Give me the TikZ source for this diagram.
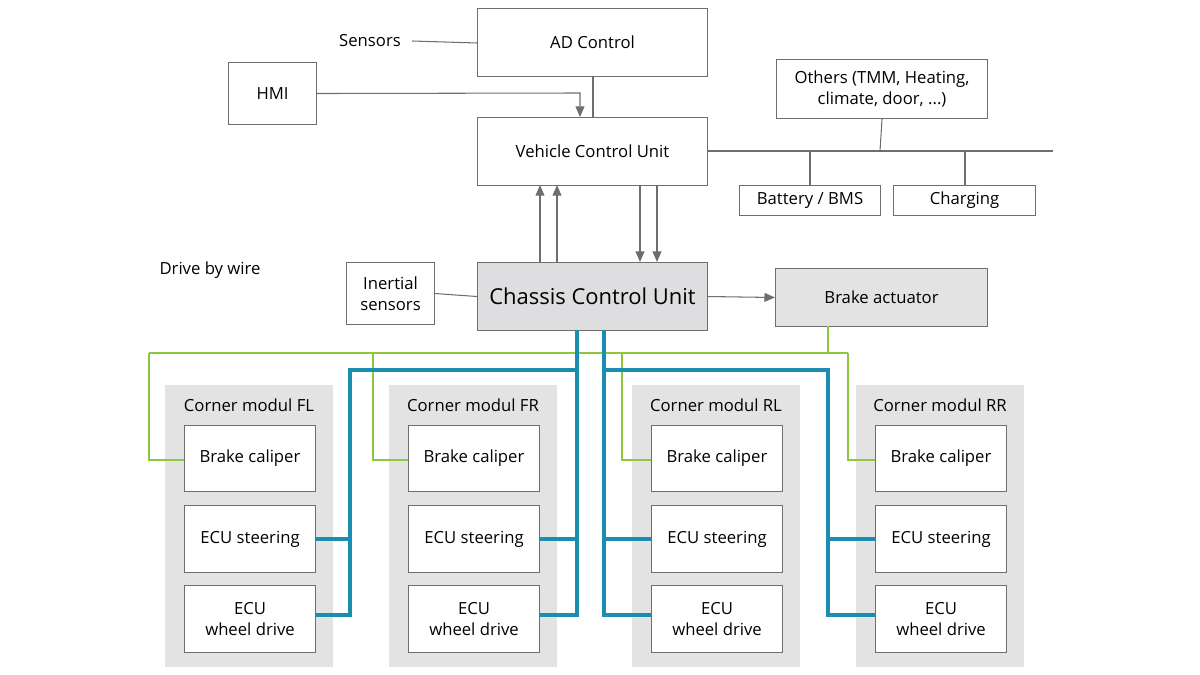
\documentclass[tikz,border=0pt]{standalone}
\usepackage{fontspec}
\setmainfont{Open Sans}
\usetikzlibrary{arrows.meta}
\definecolor{ln}{HTML}{6E6E6E}
\definecolor{blu}{HTML}{1B8DB0}
\definecolor{grn}{HTML}{8DC63F}
\begin{document}
\begin{tikzpicture}[x=0.02cm,y=-0.02cm,
 box/.style={draw=ln,fill=white,line width=0.6pt,align=center,font=\fontsize{9.5}{12}\selectfont,inner sep=0pt},
 cm/.style={fill=black!11,draw=none},
 con/.style={draw=ln,line width=0.6pt},
 arr/.style={con,-{Triangle[length=6pt,width=5pt]}},
 bl/.style={draw=blu,line width=2pt},
 gr/.style={draw=grn,line width=0.8pt}]
\useasboundingbox (0,0) rectangle (1200,675);
\newcommand{\bx}[5]{\node[box,minimum width=#4*0.02cm,minimum height=#5*0.02cm,anchor=north west] (#1) at (#2,#3) {};}
% top
\node[box,minimum width=4.6cm,minimum height=1.36cm,anchor=north west] (ad) at (477,8) {AD Control};
\node[box,minimum width=1.76cm,minimum height=1.24cm,anchor=north west] (hmi) at (228,62) {HMI};
\node[box,minimum width=4.6cm,minimum height=1.36cm,anchor=north west] (vcu) at (477,117) {Vehicle Control Unit};
\node[box,minimum width=4.22cm,minimum height=1.18cm,anchor=north west] (oth) at (776,59) {Others (TMM, Heating,\\climate, door, ...)};
\node[box,minimum width=2.82cm,minimum height=0.6cm,anchor=north west] (bat) at (739,185) {Battery / BMS};
\node[box,minimum width=2.84cm,minimum height=0.6cm,anchor=north west] (chg) at (893,185) {Charging};
\node[font=\fontsize{9.5}{12}\selectfont] (sen) at (370,41) {Sensors};
\node[font=\fontsize{9.5}{12}\selectfont] (dbw) at (210,270) {Drive by wire};
\coordinate (busE) at (1053,151);
\draw[con] (sen.east) ++(5,0) -- (ad.west|-0,43);
\draw[con] (593,76) -- (593,117);
\draw[arr] (hmi.east) -- (580,93) -- (580,117);
\draw[con] (vcu.east|-0,151) -- (busE);
\draw[con] (oth.south) -- (880,151);
\draw[con] (810,151) -- (bat.north-|810,0);
\draw[con] (965,151) -- (chg.north-|965,0);
% middle
\node[box,fill=black!18!blue!3!gray!25,minimum width=4.6cm,minimum height=1.36cm,anchor=north west,font=\fontsize{12.5}{15}\selectfont] (ccu) at (477,262) {Chassis Control Unit};
\node[box,minimum width=1.76cm,minimum height=1.24cm,anchor=north west] (ins) at (346,262) {Inertial\\sensors};
\node[box,fill=black!11,minimum width=4.24cm,minimum height=1.16cm,anchor=north west] (ba) at (775,268) {Brake actuator};
\foreach \x in {540,557} \draw[arr] (\x,262) -- (\x,185);
\foreach \x in {640,657} \draw[arr] (\x,185) -- (\x,262);
\draw[con] (ins.east) -- (ccu.west);
\draw[arr] (ccu.east) -- (ba.west);
% corner modules
\foreach \n/\x/\t in {FL/165/FL,FR/389/FR,RL/632/RL,RR/856/RR}{
 \fill[black!11] (\x,385) rectangle ++(168,282);
 \node[font=\fontsize{9.5}{12}\selectfont] (t\n) at (\x+84,405) {Corner modul \t};
 \node[box,minimum width=2.62cm,minimum height=1.32cm,anchor=north west] (bc\n) at (\x+19,425) {Brake caliper};
 \node[box,minimum width=2.62cm,minimum height=1.34cm,anchor=north west] (es\n) at (\x+19,505) {ECU steering};
 \node[box,minimum width=2.62cm,minimum height=1.34cm,anchor=north west] (ew\n) at (\x+19,585) {ECU\\wheel drive};
}
% green
\draw[gr] (828,326) -- (828,353);
\draw[gr] (149,353) -- (848,353);
\draw[gr] (149,353) -- (149,460) -- (bcFL.west|-0,460);
\draw[gr] (373,353) -- (373,460) -- (bcFR.west|-0,460);
\draw[gr] (622,353) -- (622,460) -- (bcRL.west|-0,460);
\draw[gr] (848,353) -- (848,460) -- (bcRR.west|-0,460);
% blue
\draw[bl] (577,330) -- (577,615) -- (ewFR.east|-0,615);
\draw[bl] (577,539) -- (esFR.east|-0,539);
\draw[bl] (577,370) -- (350,370) -- (350,615) -- (ewFL.east|-0,615);
\draw[bl] (350,539) -- (esFL.east|-0,539);
\draw[bl] (604,330) -- (604,615) -- (ewRL.west|-0,615);
\draw[bl] (604,539) -- (esRL.west|-0,539);
\draw[bl] (604,370) -- (828,370) -- (828,615) -- (ewRR.west|-0,615);
\draw[bl] (828,539) -- (esRR.west|-0,539);
\end{tikzpicture}
\end{document}
